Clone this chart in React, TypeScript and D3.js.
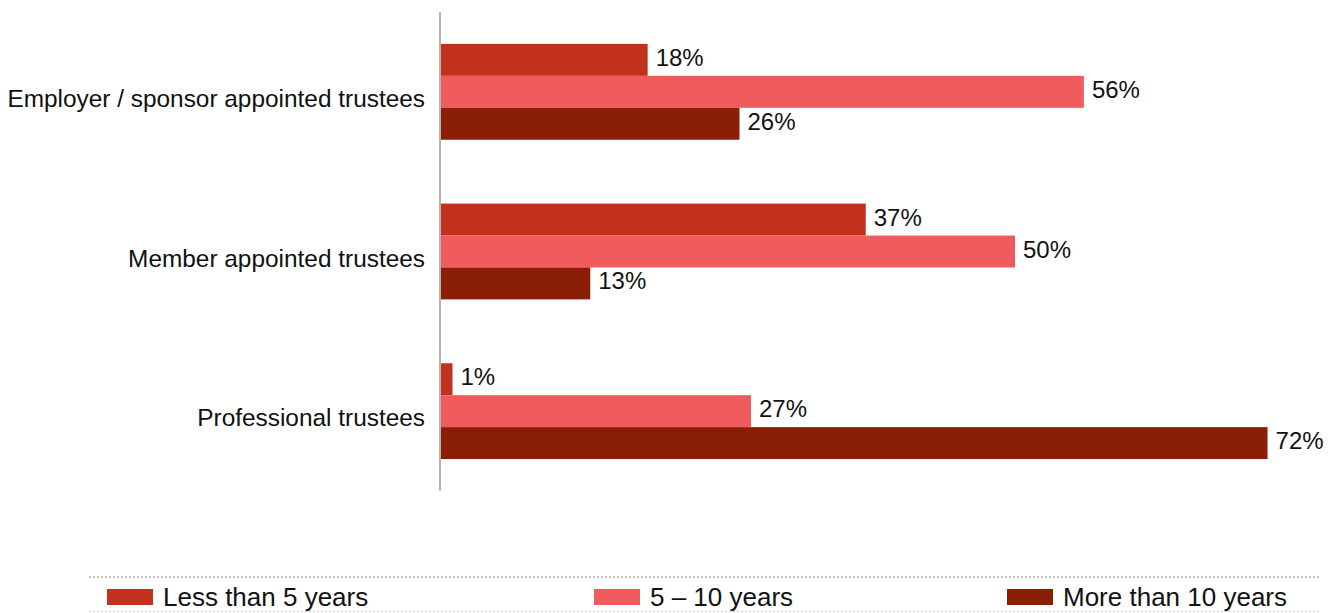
import React from "react";
import * as d3 from "d3";

const categories = [
  "Employer / sponsor appointed trustees",
  "Member appointed trustees",
  "Professional trustees",
];
const seriesNames = ["Less than 5 years", "5 – 10 years", "More than 10 years"];
const lessThan5 = [18, 37, 1];
const fiveTo10 = [56, 50, 27];
const moreThan10 = [26, 13, 72];
const seriesColors = ["#c1311d", "#f05c5e", "#8a1f05"];

const W = 1341;
const H = 613;
const FONT = "'Liberation Sans', Arial, Helvetica, sans-serif";

export default function App() {
  const seriesValues = [lessThan5, fiveTo10, moreThan10];
  const x = d3.scaleLinear().domain([0, 100]).range([441, 1589]);
  const y0 = d3.scaleBand<string>().domain(categories).range([12, 491]).paddingInner(0.4).paddingOuter(0.2);
  const y1 = d3.scaleBand<string>().domain(seriesNames).range([0, y0.bandwidth()]);

  const legendX = [107, 594, 1007];

  return (
    <svg
      width={W}
      height={H}
      style={{ position: "absolute", left: 0, top: 0, background: "#fff" }}
      fontFamily={FONT}
    >
      {categories.map((cat, ci) => {
        const gy = y0(cat)!;
        return (
          <g key={cat}>
            <text
              x={425}
              y={gy + y0.bandwidth() / 2 + 15}
              textAnchor="end"
              fontSize={24.4}
              fill="#111"
            >
              {cat}
            </text>
            {seriesNames.map((s, si) => {
              const v = seriesValues[si][ci];
              const by = gy + y1(s)!;
              return (
                <g key={s}>
                  <rect
                    x={x(0)}
                    y={by}
                    width={x(v) - x(0)}
                    height={y1.bandwidth()}
                    fill={seriesColors[si]}
                  />
                  <text
                    x={x(v) + 8}
                    y={by + y1.bandwidth() / 2 + 6}
                    fontSize={24}
                    fill="#111"
                  >
                    {v}%
                  </text>
                </g>
              );
            })}
          </g>
        );
      })}
      <line x1={440} x2={440} y1={12} y2={491} stroke="#bdb3aa" strokeWidth={2} />

      <line x1={89} x2={1320} y1={577} y2={577} stroke="#c8c0b8" strokeWidth={2} strokeDasharray="2,2" />
      <line x1={89} x2={1320} y1={611.5} y2={611.5} stroke="#d0cac4" strokeWidth={1} strokeDasharray="2,2" />
      {seriesNames.map((s, si) => (
        <g key={s}>
          <rect x={legendX[si]} y={589} width={46} height={16} fill={seriesColors[si]} />
          <text x={legendX[si] + 56} y={606} fontSize={26} fill="#111">
            {s}
          </text>
        </g>
      ))}
    </svg>
  );
}
